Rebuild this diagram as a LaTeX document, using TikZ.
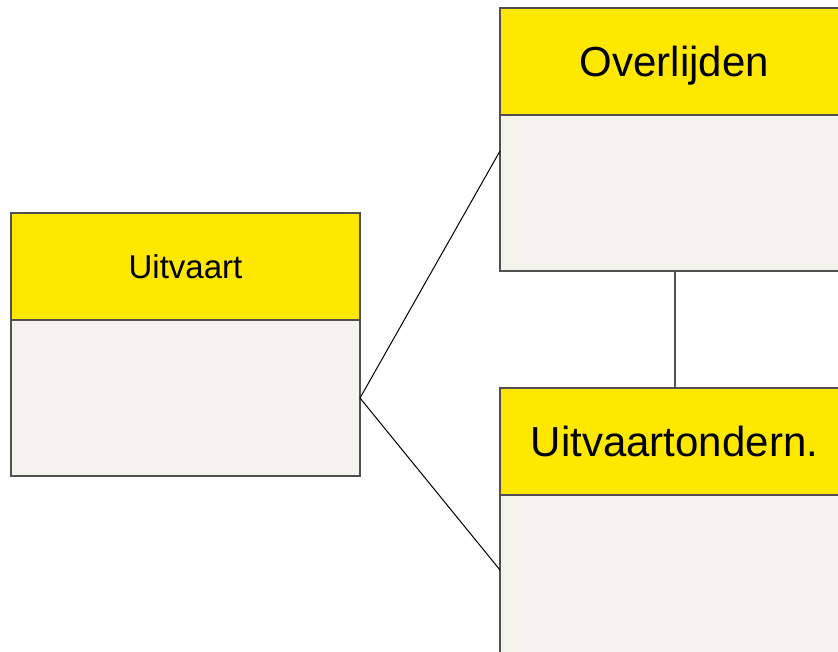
\documentclass[tikz,border=0pt]{standalone}
\usepackage{fontspec}
\setmainfont{Liberation Sans}
\usetikzlibrary{positioning}
\definecolor{headyellow}{HTML}{FFE800}
\definecolor{bodygrey}{HTML}{F4F3EC}
\definecolor{edgegrey}{HTML}{505050}

\tikzset{
  boxhead/.style={draw=edgegrey, line width=1.3pt, fill=headyellow, minimum width=349pt,
    minimum height=107pt, inner sep=0pt, outer sep=0pt, anchor=north west,
    text height=30pt, text depth=0pt, font=\fontsize{42}{50}\selectfont},
  boxbody/.style={draw=edgegrey, line width=1.3pt, fill=bodygrey, minimum width=349pt,
    minimum height=156pt, inner sep=0pt, outer sep=0pt},
  link/.style={draw=black, line width=1pt},
  vlink/.style={draw=edgegrey, line width=2pt}
}

\begin{document}
\begin{tikzpicture}[x=1pt,y=-1pt]
\useasboundingbox (0,0) rectangle (838,651);
\clip (0,0) rectangle (838,651);

% left box
\node[boxhead, font=\fontsize{33}{40}\selectfont, text height=23.6pt] (uvhead) at (11,213) {Uitvaart};
\node[boxbody, below=0pt of uvhead] (uvbody) {};

% right top box
\node[boxhead] (olhead) at (500,8) {Overlijden};
\node[boxbody, below=0pt of olhead] (olbody) {};

% right bottom box
\node[boxhead] (udhead) at (500,388) {Uitvaartondern.};
\node[boxbody, minimum height=170pt, below=0pt of udhead] (udbody) {};

% connectors
\draw[link] (uvbody.east) -- ([yshift=42pt]olbody.west);
\draw[link] (uvbody.east) -- ([yshift=-75pt]udbody.north west);
\draw[vlink] (olbody.south) -- (udhead.north);
\end{tikzpicture}
\end{document}
